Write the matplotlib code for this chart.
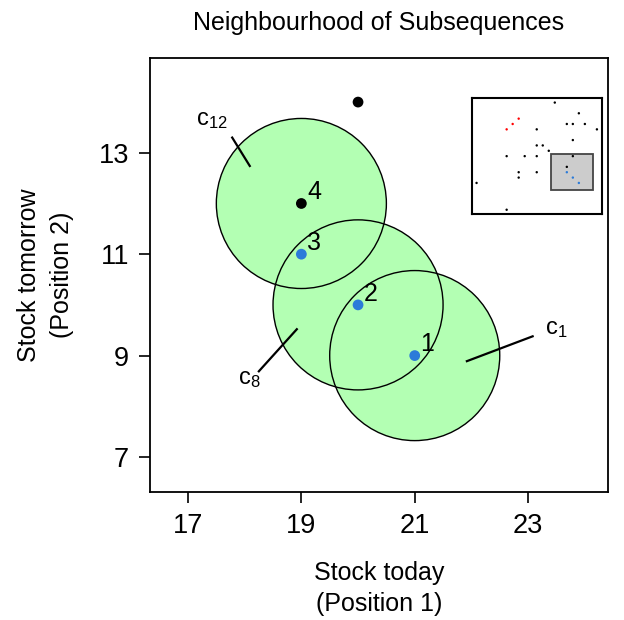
import matplotlib
matplotlib.use("Agg")
import matplotlib.pyplot as plt
from matplotlib.patches import Ellipse, Rectangle

plt.rcParams['font.family'] = ['Liberation Sans', 'DejaVu Sans']

# main panel points
pt_x = [21, 20, 19, 19, 20]
pt_y = [9, 10, 11, 12, 14]
pt_col = ['#2b7bd9', '#2b7bd9', '#2b7bd9', 'black', 'black']
pt_lab = ['1', '2', '3', '4', '']

# neighbourhood circles (centre x, centre y, radius in x units)
circ_x = [21, 20, 19]
circ_y = [9, 10, 12]
circ_r = 1.5

# circle labels: text position (baseline), line start, line end
lab_txt = ['$\\mathregular{c_{1}}$', '$\\mathregular{c_{8}}$', '$\\mathregular{c_{12}}$']
lab_pos = [(23.30, 9.42), (17.88, 8.43), (17.14, 13.55)]
seg_a = [(21.92, 8.89), (18.92, 9.52), (17.78, 13.3)]
seg_b = [(23.08, 9.38), (18.25, 8.69), (18.09, 12.74)]

# all subsequences (inset)
all_x = [17, 21, 19, 20, 22, 24, 14, 20, 14, 15, 16, 9, 12, 14, 20, 19, 11, 14, 11, 4, 9]
all_y = [24, 22, 20, 20, 20, 19, 19, 17, 16, 16, 15, 14, 14, 14, 14, 12, 11, 11, 10, 9, 4]
red_x = [9, 10, 11]
red_y = [19, 20, 21]
blue_x = [19, 20, 21]
blue_y = [11, 10, 9]

fig = plt.figure(figsize=(6.24, 6.20), dpi=100)
ax = fig.add_axes([0.2404, 0.2065, 0.734, 0.70])
xlim = (16.33, 24.41)
ylim = (6.31, 14.87)
ax.set_xlim(*xlim)
ax.set_ylim(*ylim)

# convert radius in x units to y units so circles are round on screen
wpx = 0.734 * 624
hpx = 0.70 * 620
ry = circ_r * (wpx / (xlim[1] - xlim[0])) / (hpx / (ylim[1] - ylim[0]))

for cx, cy in zip(circ_x, circ_y):
    ax.add_patch(Ellipse((cx, cy), 2 * circ_r, 2 * ry, facecolor='#b3ffb3',
                         edgecolor='none', zorder=1))
for cx, cy in zip(circ_x, circ_y):
    ax.add_patch(Ellipse((cx, cy), 2 * circ_r, 2 * ry, facecolor='none',
                         edgecolor='black', lw=1.0, zorder=2))

ax.scatter(pt_x, pt_y, c=pt_col, s=60, zorder=4, edgecolors='none')
for x, y, t in zip(pt_x, pt_y, pt_lab):
    if t:
        ax.annotate(t, (x, y), xytext=(4, 3), textcoords='offset points',
                    fontsize=18, zorder=5)

for t, p, a, b in zip(lab_txt, lab_pos, seg_a, seg_b):
    ax.plot([a[0], b[0]], [a[1], b[1]], color='black', lw=1.6, zorder=3)
    ax.text(p[0], p[1], t, fontsize=17, ha='left', va='baseline')

ax.set_xticks([17, 19, 21, 23])
ax.set_yticks([7, 9, 11, 13])
ax.tick_params(labelsize=19.5, length=8, width=1.2, direction='out', pad=7)
for s in ax.spines.values():
    s.set_linewidth(1.3)

ax.set_xlabel('Stock today\n(Position 1)', fontsize=18, labelpad=16, linespacing=1.38)
ax.set_ylabel('Stock tomorrow\n(Position 2)', fontsize=18, labelpad=18, linespacing=1.45)
ax.set_title('Neighbourhood of Subsequences', fontsize=18, pad=20)

# inset
ins = fig.add_axes([0.756, 0.6548, 0.2083, 0.1867])
ins.set_xlim(3.2, 24.8)
ins.set_ylim(3.2, 24.8)
ins.set_xticks([])
ins.set_yticks([])
for s in ins.spines.values():
    s.set_linewidth(1.5)
ins.add_patch(Rectangle((16.44, 7.69), 6.84, 6.74, facecolor='#cccccc',
                        edgecolor='#444444', lw=1.3, zorder=1))
ins.scatter(all_x, all_y, s=3, c='black', zorder=2, edgecolors='none')
ins.scatter(red_x, red_y, s=3, c='red', zorder=2, edgecolors='none')
ins.scatter(blue_x, blue_y, s=3, c='#2b7bd9', zorder=2, edgecolors='none')

fig.savefig('out.png', dpi=100)
